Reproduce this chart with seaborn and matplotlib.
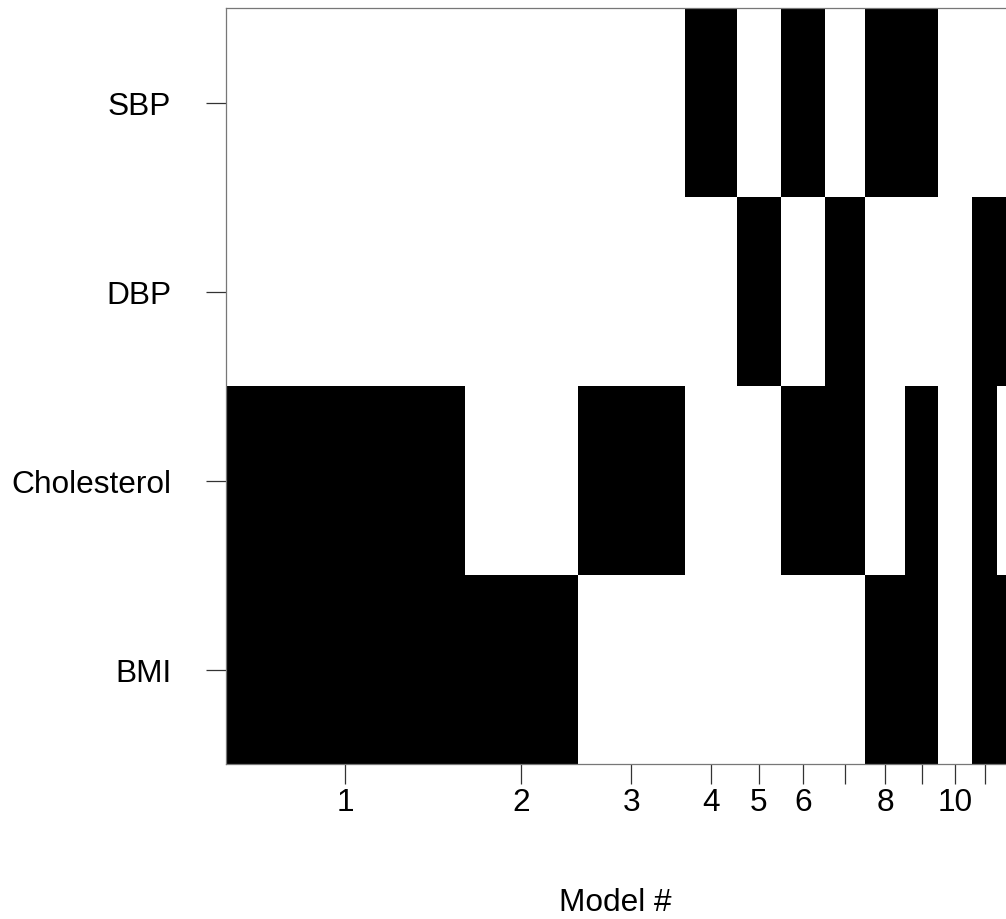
import numpy as np
import pandas as pd
import matplotlib
matplotlib.use("Agg")
import matplotlib.pyplot as plt
from matplotlib.colors import ListedColormap
import seaborn as sns

# ---- data ----
variables = ["SBP", "DBP", "Cholesterol", "BMI"]          # top to bottom
model_probs = [0.297, 0.141, 0.133, 0.065, 0.055, 0.055,
               0.050, 0.049, 0.042, 0.042, 0.031, 0.041]
sbp_in  = [0, 0, 0, 1, 0, 1, 0, 1, 1, 0, 0, 0]
dbp_in  = [0, 0, 0, 0, 1, 0, 1, 0, 0, 0, 1, 1]
chol_in = [1, 0, 1, 0, 0, 1, 1, 0, 1, 0, 1, 0]
bmi_in  = [1, 1, 0, 0, 0, 0, 0, 1, 1, 0, 1, 1]
tick_labels = ["1", "2", "3", "4", "5", "6", "", "8", "", "10", "", ""]

sns.set_style("white")
plt.rcParams["font.family"] = ["Liberation Sans", "DejaVu Sans"]
plt.rcParams["text.color"] = "black"
plt.rcParams["axes.labelcolor"] = "black"
plt.rcParams["xtick.color"] = "black"
plt.rcParams["ytick.color"] = "black"

edges = np.concatenate([[0], np.cumsum(model_probs)])
mids = (edges[:-1] + edges[1:]) / 2
inclusion = {"SBP": sbp_in, "DBP": dbp_in, "Cholesterol": chol_in, "BMI": bmi_in}
row_pos = {"BMI": 0, "Cholesterol": 1, "DBP": 2, "SBP": 3}

rows = []
for v in variables:
    for i, m in enumerate(mids):
        rows.append({"x": m, "y": row_pos[v], "w": float(inclusion[v][i])})
df = pd.DataFrame(rows)

fig = plt.figure(figsize=(10.06, 9.20), dpi=100)
ax = fig.add_axes([226 / 1006, (920 - 765) / 920, 804 / 1006, 756 / 920])

yedges = np.arange(-0.5, 4.0, 1.0)
sns.histplot(data=df, x="x", y="y", weights="w", bins=(edges, yedges),
             cmap=ListedColormap(["black"]), ax=ax, cbar=False)

ax.set_xlim(edges[0], edges[-1])
ax.set_ylim(-0.5, 3.5)
ax.set_xticks(mids)
ax.set_xticklabels(tick_labels)
ax.set_yticks([row_pos[v] for v in variables])
ax.set_yticklabels(variables)
ax.set_ylabel("")
ax.set_xlabel("Model #", fontsize=22.8, color="black")
ax.xaxis.set_label_coords((615 - 226) / 804, -(903 - 765) / 756)
ax.xaxis.label.set_va("center")

ax.tick_params(axis="both", which="both", direction="out", length=14.4,
               width=0.9, color="#333333", labelsize=22.8, labelcolor="black")
ax.tick_params(axis="y", pad=25, left=True)
ax.tick_params(axis="x", pad=2.5, bottom=True)
for s in ax.spines.values():
    s.set_visible(True)
    s.set_color("#777777")
    s.set_linewidth(0.9)

fig.savefig("out.png", dpi=100)
